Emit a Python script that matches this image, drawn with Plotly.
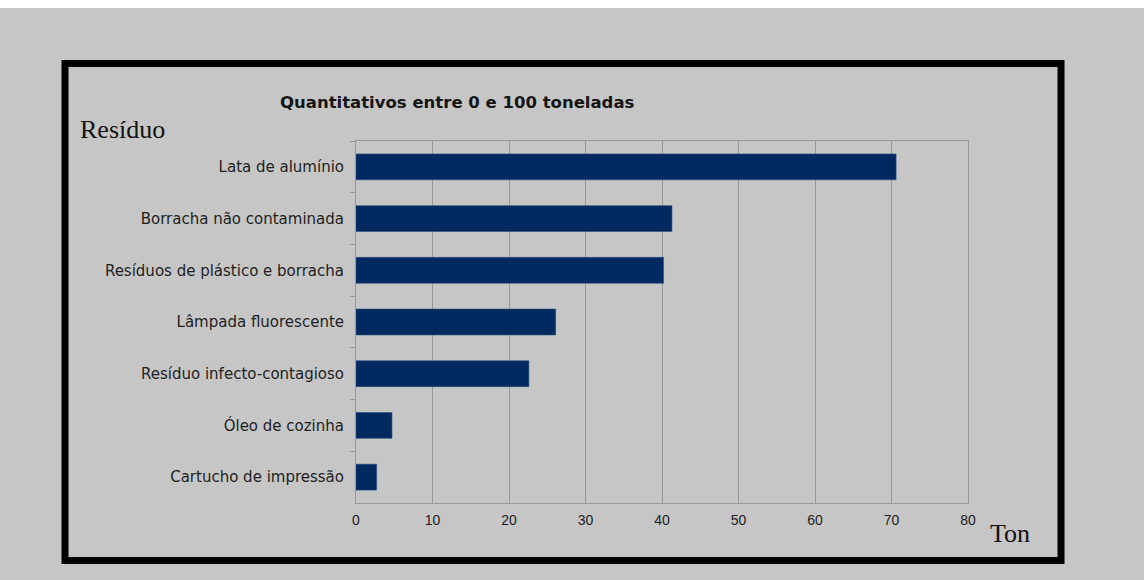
import plotly.graph_objects as go

categorias = [
    "Lata de alumínio",
    "Borracha não contaminada",
    "Resíduos de plástico e borracha",
    "Lâmpada fluorescente",
    "Resíduo infecto-contagioso",
    "Óleo de cozinha",
    "Cartucho de impressão",
]
toneladas = [70.6, 41.3, 40.2, 26.1, 22.6, 4.7, 2.7]
x_ticks = [0, 10, 20, 30, 40, 50, 60, 70, 80]

CINZA = "#c6c6c6"
AZUL = "#002a5f"
GRADE = "#979797"
TEXTO = "#1e1e1e"
SANS = "DejaVu Sans, Verdana, sans-serif"
SERIF = "Liberation Serif, Times New Roman, serif"

fig = go.Figure(
    go.Bar(
        x=toneladas,
        y=categorias,
        orientation="h",
        marker=dict(color=AZUL, line=dict(width=0.6, color="#2a4f80")),
        width=0.5,
        hoverinfo="x+y",
    )
)

fig.update_layout(
    width=1144,
    height=580,
    margin=dict(l=356, r=176, t=141, b=77),
    paper_bgcolor="white",
    plot_bgcolor=CINZA,
    showlegend=False,
    font=dict(family=SANS, color=TEXTO, size=12),
    xaxis=dict(
        range=[0, 80],
        tickvals=x_ticks,
        showgrid=True,
        gridcolor=GRADE,
        gridwidth=1,
        zeroline=False,
        showline=True,
        linecolor=GRADE,
        linewidth=1,
        mirror=True,
        ticks="",
        tickfont=dict(family="Liberation Sans, Arial, sans-serif", size=14, color=TEXTO),
        ticklabelstandoff=4,
    ),
    yaxis=dict(
        categoryorder="array",
        categoryarray=categorias,
        autorange="reversed",
        showgrid=False,
        zeroline=False,
        showline=True,
        linecolor=GRADE,
        linewidth=1,
        mirror=True,
        ticks="outside",
        tickson="boundaries",
        ticklen=5,
        tickcolor=GRADE,
        tickfont=dict(family=SANS, size=15, color=TEXTO),
        ticklabelstandoff=8,
    ),
    shapes=[
        # grey canvas
        dict(type="rect", xref="paper", yref="paper", x0=-356 / 612, x1=(1144 - 356) / 612,
             y0=-77 / 362, y1=(580 - 8 - 77) / 362,
             fillcolor=CINZA, line=dict(width=0), layer="below"),
        # black frame
        dict(type="rect", xref="paper", yref="paper",
             x0=(65 - 356) / 612, x1=(1061 - 356) / 612,
             y0=(580 - 560.5 - 77) / 362, y1=(580 - 63.5 - 77) / 362,
             line=dict(color="black", width=7), fillcolor="rgba(0,0,0,0)", layer="above"),
    ],
    annotations=[
        dict(text="<b>Quantitativos entre 0 e 100 toneladas</b>", xref="paper", yref="paper",
             x=(457 - 356) / 612, y=(580 - 102 - 77) / 362, xanchor="center", yanchor="middle",
             showarrow=False, font=dict(family=SANS, size=16.5, color="#141414")),
        dict(text="Resíduo", xref="paper", yref="paper",
             x=(78 - 356) / 612, y=(580 - 129 - 77) / 362, xanchor="left", yanchor="middle",
             showarrow=False, font=dict(family=SERIF, size=26, color="#111")),
        dict(text="Ton", xref="paper", yref="paper",
             x=(988 - 356) / 612, y=(580 - 533 - 77) / 362, xanchor="left", yanchor="middle",
             showarrow=False, font=dict(family=SERIF, size=26, color="#111")),
    ],
)

fig.write_html("out.html")
